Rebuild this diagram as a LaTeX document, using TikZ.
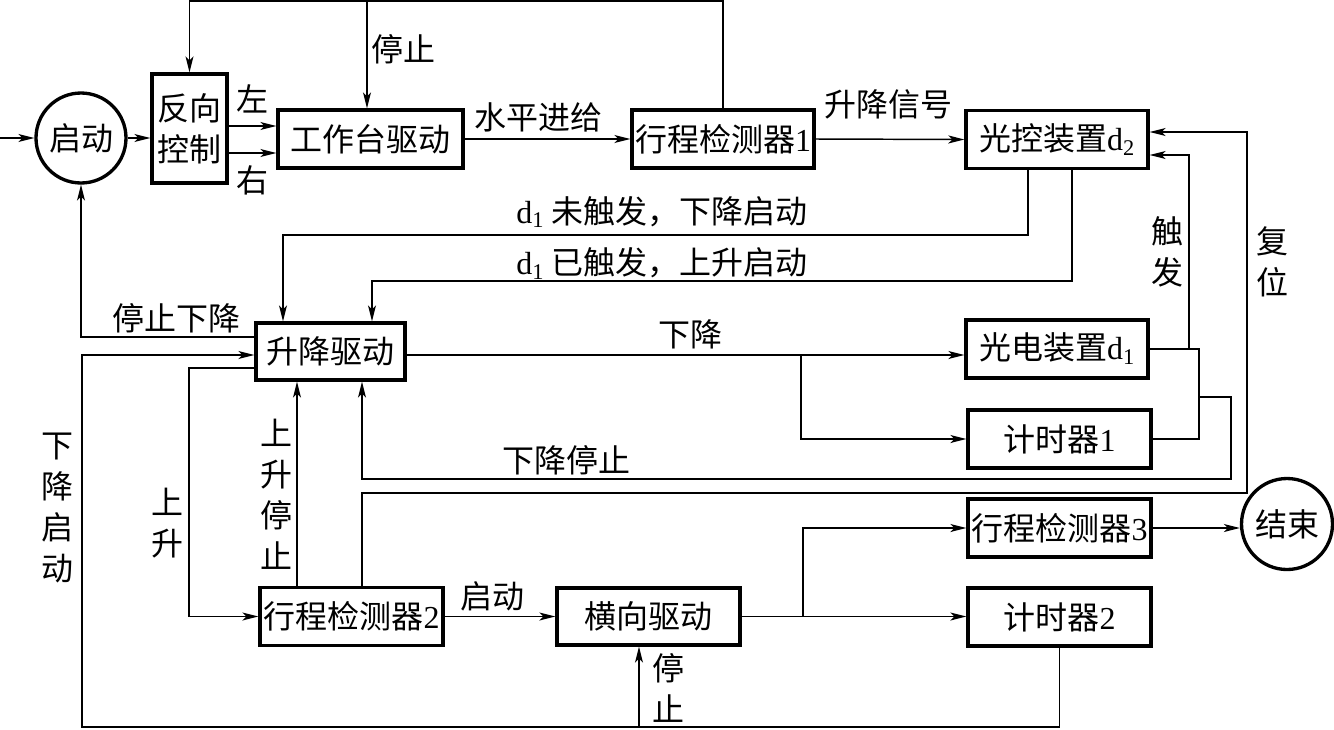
\documentclass[tikz,border=0pt]{standalone}
\usepackage{fontspec}
\setmainfont{Liberation Serif}
\newfontfamily\cjk{Noto Sans CJK SC}
\usetikzlibrary{arrows.meta,calc}
\begin{document}
\begin{tikzpicture}[x=0.75pt,y=-0.75pt,
  every node/.style={font=\cjk\fontsize{24}{30.75}\selectfont, inner sep=0pt},
  box/.style={draw, line width=2.5pt, minimum height=43.5pt},
  circ/.style={draw, circle, line width=2.5pt, minimum size=67.5pt},
  conn/.style={line width=1.1pt},
  arr/.style={conn, -{Stealth[length=12pt,width=6pt,inset=3pt]}},
  lbl/.style={align=center}
]
\useasboundingbox (0,0) rectangle (1334,729);
% nodes
\node[circ] (start) at (81,138) {启动};
\node[box, minimum width=56.25pt, minimum height=81.75pt, align=center] (fx) at (189.5,128.5) {反向\\控制};
\node[box, minimum width=138.75pt] (gzt) at (370.5,139) {工作台驱动};
\node[box, minimum width=136.5pt] (xc1) at (723,139) {行程检测器{\rmfamily 1}};
\node[box, minimum width=136.5pt] (gk) at (1057,139.5) {光控装置{\rmfamily d\textsubscript{2}}};
\node[box, minimum width=111.75pt, minimum height=42.75pt] (sj) at (330.5,351.5) {升降驱动};
\node[box, minimum width=136.5pt] (gd) at (1057,349) {光电装置{\rmfamily d\textsubscript{1}}};
\node[box, minimum width=137.25pt] (js1) at (1059.5,439) {计时器{\rmfamily 1}};
\node[box, minimum width=137.25pt] (xc3) at (1059.5,528) {行程检测器{\rmfamily 3}};
\node[box, minimum width=137.25pt] (js2) at (1059.5,617) {计时器{\rmfamily 2}};
\node[box, minimum width=137.25pt] (xc2) at (351.5,616.5) {行程检测器{\rmfamily 2}};
\node[box, minimum width=137.25pt, minimum height=42.75pt] (hx) at (648.5,616.5) {横向驱动};
\node[circ, minimum size=68.25pt] (end) at (1287,524) {结束};
% coordinates
\coordinate (in0) at (0,138);
\coordinate (t1) at ($(gzt.north)+(-3.5,0)$);
\coordinate (a1) at ($(gk.south)+(-29,0)$);
\coordinate (b1) at ($(sj.north)+(-47.5,0)$);
\coordinate (a2) at ($(gk.south)+(15,0)$);
\coordinate (b2) at ($(sj.north)+(41.5,0)$);
\coordinate (h1) at ($(hx.south)+(-9.5,0)$);
\coordinate (u1) at ($(xc2.north)+(-54.5,0)$);
\coordinate (u2) at ($(xc2.north)+(10.5,0)$);
\coordinate (d2) at ($(sj.south)+(31.5,0)$);
\coordinate (rs) at (1247,493);
\coordinate (jA) at (1199,397);
\coordinate (jB) at (1231,397);
\coordinate (jD) at (801,355);
\coordinate (jH) at (803,616.5);
% connectors
\draw[arr] (in0) -- (start.west);
\draw[arr] (start.east) -- (fx.west |- start.east);
\draw[arr] (fx.east |- 0,126) -- (gzt.west |- 0,126);
\draw[arr] (fx.east |- 0,153) -- (gzt.west |- 0,153);
\draw[arr] (xc1.north) -- (xc1.north |- 0,1) -| (fx.north);
\draw[arr] (t1 |- 0,1) -- (t1);
\draw[arr] (gzt.east) -- (xc1.west);
\draw[arr] (xc1.east) -- (gk.west);
\draw[arr] (a1) -- (a1 |- 0,235) -- (b1 |- 0,235) -- (b1);
\draw[arr] (a2) -- (a2 |- 0,281) -- (b2 |- 0,281) -- (b2);
\draw[arr] (sj.west |- 0,337) -- (start.south |- 0,337) -- (start.south);
\draw[arr] (js2.south) -- (js2.south |- 0,727) -- (82,727) -- (82,355) -- (sj.west |- 0,355);
\draw[arr] (h1 |- 0,727) -- (h1);
\draw[arr] (sj.west |- 0,368) -| (xc2.west -| 189,0) -- (xc2.west);
\draw[arr] (u1) -- (u1 |- sj.south);
\draw[arr] (u2) |- (rs) -- (rs |- 0,132) -- (gk.east |- 0,132);
\draw[arr] (jA) -- (jB) -- (jB |- 0,479) -- (d2 |- 0,479) -- (d2);
\draw[conn] (gd.east) -- (gd.east -| jA) -- (js1.east -| jA) -- (js1.east);
\draw[arr] (gd.east -| 1189,0) -- (1189,155) -- (gk.east |- 0,155);
\draw[arr] (sj.east |- jD) -- (gd.west |- jD);
\draw[arr] (jD) |- (js1.west);
\draw[arr] (xc2.east) -- (hx.west);
\draw[arr] (hx.east) -- (js2.west |- hx.east);
\draw[arr] (jH) |- (xc3.west);
\draw[arr] (xc3.east) -- (xc3.east -| end.west);
% labels
\node (L1) at (403,49) {停止};
\node (L2) at (252,99) {左};
\node (L3) at (252,180) {右};
\node (L4) at (538,117) {水平进给};
\node (L5) at (888,104) {升降信号};
\node (L6) at (662,212) {{\rmfamily d\textsubscript{1}} 未触发，下降启动};
\node (L7) at (662,263) {{\rmfamily d\textsubscript{1}} 已触发，上升启动};
\node[lbl] (L8) at (1167,252) {触\\发};
\node[lbl] (L9) at (1272,262) {复\\位};
\node (L10) at (176,318) {停止下降};
\node (L11) at (690,334) {下降};
\node (L12) at (566,460) {下降停止};
\node[lbl] (L13) at (57,508) {下\\降\\启\\动};
\node[lbl] (L14) at (167,523) {上\\升};
\node[lbl] (L15) at (276,494) {上\\升\\停\\止};
\node (L16) at (492,596) {启动};
\node[lbl] (L17) at (668,688) {停\\止};
\end{tikzpicture}
\end{document}
